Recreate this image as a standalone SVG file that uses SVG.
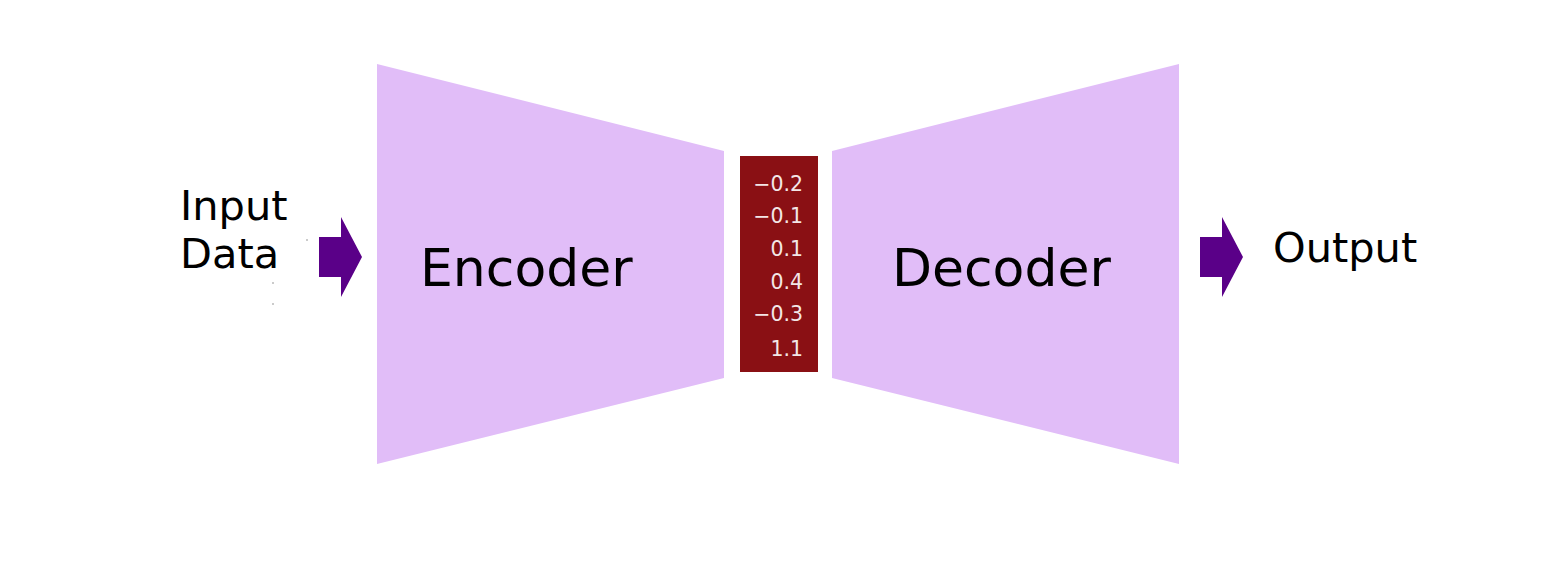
<svg xmlns="http://www.w3.org/2000/svg" width="1556" height="588" viewBox="0 0 1556 588">
<style>
.lbl{font-family:"DejaVu Sans",sans-serif;fill:#000}
.big{font-size:52px}
.mid{font-size:41.5px}
.num{font-family:"DejaVu Sans",sans-serif;font-size:20.5px;fill:#f3e6e6;text-anchor:end}
.trap{fill:#e1bdf8}
.arrow{fill:#5a0088}
</style>
<rect width="1556" height="588" fill="#fff"/>
<g id="input">
<text class="lbl mid" x="180" y="220">Input</text>
<text class="lbl mid" x="180" y="268">Data</text>
<circle cx="307" cy="240" r="0.8" fill="#888"/>
<circle cx="273" cy="283" r="0.8" fill="#888"/>
<circle cx="273" cy="304" r="0.8" fill="#888"/>
</g>
<g id="encoder">
<polygon class="trap" points="377,64 724,151 724,378 377,464"/>
<text class="lbl big" x="420" y="286">Encoder</text>
</g>
<g id="latent">
<rect x="740" y="156" width="78" height="216" fill="#8a1014"/>
<text class="num" x="803" y="191">−0.2</text>
<text class="num" x="803" y="223">−0.1</text>
<text class="num" x="803" y="256">0.1</text>
<text class="num" x="803" y="289">0.4</text>
<text class="num" x="803" y="321">−0.3</text>
<text class="num" x="803" y="356">1.1</text>
</g>
<g id="decoder">
<polygon class="trap" points="832,151 1179,64 1179,464 832,378"/>
<text class="lbl big" x="892" y="286">Decoder</text>
</g>
<g id="output">
<text class="lbl mid" x="1273" y="262">Output</text>
</g>
<g id="connectors">
<polygon class="arrow" points="319,237 341,237 341,217 362,257 341,297 341,277 319,277"/>
<polygon class="arrow" points="1200,237 1222,237 1222,217 1243,257 1222,297 1222,277 1200,277"/>
</g>
</svg>
